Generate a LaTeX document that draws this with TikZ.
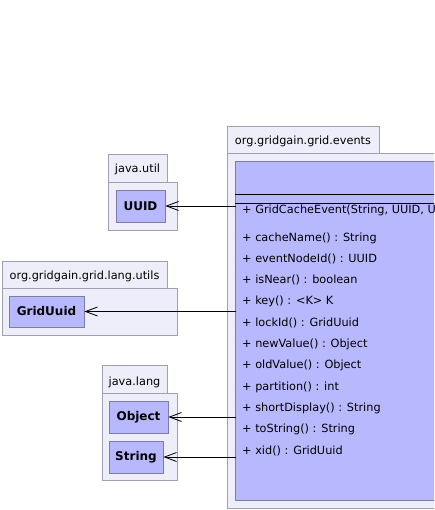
\documentclass[tikz,border=0pt]{standalone}
\usepackage{fontspec}
\setmainfont{DejaVu Sans}
\usetikzlibrary{arrows.meta}
\definecolor{pkgfill}{HTML}{EEEEFB}
\definecolor{pkgdraw}{HTML}{A0A0B4}
\definecolor{clsfill}{HTML}{B8B8FF}
\definecolor{clsdraw}{HTML}{7C7CA4}
\tikzset{
  pkg/.style={draw=pkgdraw,fill=pkgfill,line width=0.8pt},
  cls/.style={draw=clsdraw,fill=clsfill,line width=0.8pt,inner sep=0pt,font=\fontsize{12}{14}\selectfont\bfseries},
  tabtxt/.style={anchor=base,inner sep=0pt,font=\fontsize{11.3}{13}\selectfont},
  member/.style={anchor=base west,inner sep=0pt,font=\fontsize{11.3}{13}\selectfont},
  dep/.style={draw=black,line width=0.8pt,-{Straight Barb[length=12pt,width=9pt,line width=0.8pt]}}
}
\begin{document}
\begin{tikzpicture}[x=1pt,y=-1pt]
\useasboundingbox (0,0) rectangle (434,510);
\fill[white] (0,0) rectangle (434,510);
\clip (0,0) rectangle (434,510);
% events package
\draw[pkg] (227,126) rectangle (379,153);
\draw[pkg] (227,153) rectangle (460,508);
\node[tabtxt] (evtab) at (303,145) {org.gridgain.grid.events};
\draw[cls] (235,161) rectangle (470,500);
\coordinate (ev) at (236,300);
\draw[line width=0.8pt] (235,194) -- (470,194);
\draw[line width=0.8pt] (235,203) -- (470,203);
\node[member] (m0) at (242,214) {+ GridCacheEvent(String, UUID, UUID)};
\foreach \t [count=\i from 0] in {%
  {+ cacheName() : String},
  {+ eventNodeId() : UUID},
  {+ isNear() : boolean},
  {+ key() : <K> K},
  {+ lockId() : GridUuid},
  {+ newValue() : Object},
  {+ oldValue() : Object},
  {+ partition() : int},
  {+ shortDisplay() : String},
  {+ toString() : String},
  {+ xid() : GridUuid}}
  \node[member] (m\i) at (242,{241+21.3*\i}) {\t};
% java.util
\draw[pkg] (108,154) rectangle (167,182);
\draw[pkg] (108,182) rectangle (177,230);
\node[tabtxt] (utab) at (137.5,173) {java.util};
\node[cls,minimum width=49pt,minimum height=32pt] (uuid) at (140.5,206) {UUID};
% grid lang utils
\draw[pkg] (2,261) rectangle (167,288);
\draw[pkg] (2,288) rectangle (177,335);
\node[tabtxt] (ltab) at (84.5,279) {org.gridgain.grid.lang.utils};
\node[cls,minimum width=75pt,minimum height=31pt] (griduuid) at (46.5,311.5) {GridUuid};
% java.lang
\draw[pkg] (102,365) rectangle (167,393);
\draw[pkg] (102,393) rectangle (177,480);
\node[tabtxt] (jtab) at (134.5,385) {java.lang};
\node[cls,minimum width=59pt,minimum height=32pt] (object) at (138.5,417) {Object};
\node[cls,minimum width=54pt,minimum height=32pt] (string) at (136,457) {String};
% dependencies
\draw[dep] (ev |- uuid.east) -- (uuid.east);
\draw[dep] (ev |- griduuid.east) -- (griduuid.east);
\draw[dep] (ev |- object.east) -- (object.east);
\draw[dep] (ev |- string.east) -- (string.east);
\end{tikzpicture}
\end{document}
